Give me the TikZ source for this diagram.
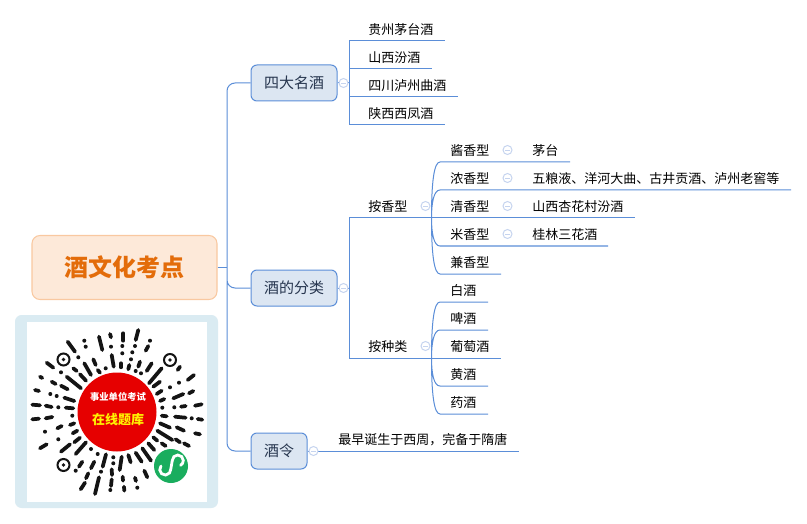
\documentclass[tikz,border=0pt]{standalone}
\usepackage{fontspec}
\setmainfont{Noto Sans CJK SC}
\definecolor{linkblue}{HTML}{5B8ED8}
\definecolor{boxfill}{HTML}{DCE6F2}
\definecolor{boxtext}{HTML}{27364F}
\definecolor{foldblue}{HTML}{C6D4EF}
\definecolor{rootfill}{HTML}{FDE9D9}
\definecolor{rootline}{HTML}{F9C8A0}
\definecolor{roottext}{HTML}{E36C0A}
\definecolor{frameblue}{HTML}{DAEBF2}
\definecolor{qrred}{HTML}{E60000}
\definecolor{qrgreen}{HTML}{1AAD5E}
\definecolor{qryellow}{HTML}{FFF200}
\definecolor{qrink}{HTML}{141414}

\begin{document}
\begin{tikzpicture}[x=0.75pt,y=0.75pt]
\tikzstyle{every node}+=[inner sep=0pt]
\tikzstyle{link}=[draw=linkblue,line width=0.75pt]
\tikzstyle{leaf}=[anchor=west,text=black,yshift=-0.5pt,font=\fontsize{9.75pt}{12pt}\selectfont]
\tikzstyle{branch}=[draw=linkblue,fill=boxfill,line width=0.75pt,rounded corners=4.5pt,minimum height=27pt,text=boxtext,font=\fontsize{11.25pt}{14pt}\selectfont]
\tikzstyle{fold}=[circle,draw=foldblue,fill=white,line width=0.75pt,minimum size=6.75pt,path picture={\draw[foldblue,line width=0.6pt] ([xshift=-1.8pt]path picture bounding box.center) -- ([xshift=1.8pt]path picture bounding box.center);}]
\tikzstyle{qrstroke}=[draw=qrink,line width=2.8pt,line cap=round]
\tikzstyle{qrdot}=[fill=qrink]
\tikzstyle{qrring}=[draw=qrink,line width=1.5pt]
\useasboundingbox (0,0) rectangle (807,-524);
\fill [white] (0,0) rectangle (807,-524);
% main boxes
\node [draw=rootline,fill=rootfill,line width=0.8pt,rounded corners=6pt,minimum width=138.75pt,minimum height=48pt,text=roottext,font=\fontsize{18pt}{22pt}\selectfont\bfseries] (root) at (124.5,-267.5) {酒文化考点};
\node [branch,minimum width=64.5pt] (famous) at (294,-83) {四大名酒};
\node [branch,minimum width=64.5pt] (kinds) at (294,-288) {酒的分类};
\node [branch,minimum width=42pt] (ling) at (279,-451) {酒令};
\coordinate (trunk) at (227,-267.5);
\draw [link] (root.east) -- (trunk);
\draw [link,rounded corners=6pt] (famous.west) -| (trunk) |- (ling.west) (trunk) |- (kinds.west);
% four famous
\coordinate (famousspine) at (349,-83);
\node [leaf] (guizhou) at (368,-29) {贵州茅台酒};
\node [leaf] (shanxi) at (368,-57) {山西汾酒};
\node [leaf] (luzhou) at (368,-85) {四川泸州曲酒};
\node [leaf] (xifeng) at (368,-113) {陕西西凤酒};
\coordinate (guizhouend) at (445,-41);
\coordinate (shanxiend) at (432,-69);
\coordinate (luzhouend) at (458,-97);
\coordinate (xifengend) at (445,-125);
\draw [link] (famous.east) -- (famousspine) (famousspine) |- (guizhouend) (famousspine) |- (shanxiend) (famousspine) |- (luzhouend) (famousspine) |- (xifengend);
\node [fold] (foldfamous) at (343.5,-83) {};
% classes
\coordinate (kindsspine) at (349,-288);
\node [leaf] (aroma) at (368,-206) {按香型};
\node [leaf] (sort) at (368,-346) {按种类};
% by aroma
\node [leaf] (jiang) at (450,-150) {酱香型};
\node [leaf] (nong) at (450,-178) {浓香型};
\node [leaf] (qing) at (450,-206) {清香型};
\node [leaf] (mi) at (450,-234) {米香型};
\node [leaf] (jian) at (450,-262) {兼香型};
\node [fold] (foldjiang) at (507.5,-150) {};
\node [fold] (foldnong) at (507.5,-178) {};
\node [fold] (foldqing) at (507.5,-206) {};
\node [fold] (foldmi) at (507.5,-234) {};
\node [leaf] (maotai) at (532,-150) {茅台};
\node [leaf] (wuliang) at (532,-178) {五粮液、洋河大曲、古井贡酒、泸州老窖等};
\node [leaf] (xinghua) at (532,-206) {山西杏花村汾酒};
\node [leaf] (sanhua) at (532,-234) {桂林三花酒};
\coordinate (aromajoin) at (431.5,-218);
\coordinate (jiangstart) at (440,-162);
\coordinate (nongstart) at (440,-190);
\coordinate (mistart) at (440,-246);
\coordinate (jianstart) at (440,-274);
\coordinate (jiangend) at (570,-162);
\coordinate (nongend) at (791,-190);
\coordinate (qingend) at (635,-218);
\coordinate (miend) at (608,-246);
\coordinate (jianend) at (501,-274);
\draw [link] (aromajoin) .. controls +(0,36) and +(-6,0) .. (jiangstart) -- (jiangend)
  (aromajoin) .. controls +(0,16) and +(-6,0) .. (nongstart) -- (nongend)
  (aromajoin) .. controls +(0,-16) and +(-6,0) .. (mistart) -- (miend)
  (aromajoin) .. controls +(0,-36) and +(-6,0) .. (jianstart) -- (jianend);
% by sort
\node [leaf] (baijiu) at (450,-290) {白酒};
\node [leaf] (pijiu) at (450,-318) {啤酒};
\node [leaf] (putao) at (450,-346) {葡萄酒};
\node [leaf] (huang) at (450,-374) {黄酒};
\node [leaf] (yao) at (450,-402) {药酒};
\coordinate (sortjoin) at (431.5,-358);
\coordinate (baistart) at (440,-302);
\coordinate (pistart) at (440,-330);
\coordinate (huangstart) at (440,-386);
\coordinate (yaostart) at (440,-414);
\coordinate (baiend) at (488,-302);
\coordinate (piend) at (488,-330);
\coordinate (putaoend) at (501,-358);
\coordinate (huangend) at (488,-386);
\coordinate (yaoend) at (488,-414);
\draw [link] (sortjoin) .. controls +(0,36) and +(-6,0) .. (baistart) -- (baiend)
  (sortjoin) .. controls +(0,16) and +(-6,0) .. (pistart) -- (piend)
  (sortjoin) .. controls +(0,-16) and +(-6,0) .. (huangstart) -- (huangend)
  (sortjoin) .. controls +(0,-36) and +(-6,0) .. (yaostart) -- (yaoend);
\draw [link] (kinds.east) -- (kindsspine) (kindsspine) |- (qingend) (kindsspine) |- (putaoend);
\node [fold] (foldsort) at (425.5,-346) {};
\node [fold] (foldaroma) at (425.5,-206) {};
\node [fold] (foldkinds) at (343.5,-288) {};
% wine order
\node [leaf] (origin) at (338,-439) {最早诞生于西周\symbol{"FF0C}完备于隋唐};
\coordinate (originend) at (519,-451);
\draw [link] (ling.east) -- (originend);
\node [fold] (foldling) at (313.5,-451) {};
% code card
\fill [frameblue,rounded corners=5pt] (15,-315) rectangle (218,-508);
\fill [white] (27,-322) rectangle (207,-502);
\draw [qrring] (63.5,-359.5) circle (6);
\fill [qrdot] (63.5,-359.5) circle (1.8);
\draw [qrring] (170,-360) circle (6);
\fill [qrdot] (170,-360) circle (1.8);
\draw [qrring] (63.5,-465) circle (6);
\fill [qrdot] (63.5,-465) circle (1.8);
% upper left strokes
\draw [qrstroke] (67.7,-341.7) -- (75,-351.7);
\draw [qrstroke] (99,-336.7) -- (102.3,-350);
\draw [qrstroke] (110,-334) -- (111,-337.3);
\draw [qrstroke] (111.7,-355) -- (113.7,-366.7);
\draw [qrstroke] (46.7,-362.7) -- (53.3,-367.7);
\draw [qrstroke] (84.3,-363.3) -- (91,-375);
\draw [qrstroke] (93.3,-359.3) -- (95.7,-365);
\draw [qrstroke] (73.3,-368.3) -- (76.7,-371);
\draw [qrstroke] (80,-374.3) -- (86,-380.7);
\draw [qrstroke] (66.7,-376.7) -- (81,-388.3);
\draw [qrstroke] (97.7,-370) -- (100,-372.7);
\draw [qrstroke] (40,-376.7) -- (42.3,-378);
\draw [qrstroke] (51.7,-381.7) -- (55.7,-384);
\draw [qrstroke] (61,-385.7) -- (67.7,-389.3);
\draw [qrstroke] (35,-390) -- (39,-391);
\draw [qrstroke] (64.3,-397.7) -- (74.3,-401);
\draw [qrstroke] (32.3,-404.7) -- (40,-405.3);
\draw [qrstroke] (45.7,-405.7) -- (51.7,-407);
\draw [qrstroke] (65.7,-407.7) -- (73.3,-408.3);
\fill [qrdot] (84.3,-340.7) circle (2);
\fill [qrdot] (85.7,-346.7) circle (2);
\fill [qrdot] (111,-346.7) circle (2);
\fill [qrdot] (78.3,-357.3) circle (2);
\fill [qrdot] (105.7,-368.3) circle (2);
\fill [qrdot] (61,-372.3) circle (2);
\fill [qrdot] (50.3,-394) circle (2);
\fill [qrdot] (56.7,-396) circle (2);
\fill [qrdot] (58.3,-407.3) circle (2);
% upper right strokes
\draw [qrstroke] (123.3,-333.3) -- (123.3,-340.7);
\draw [qrstroke] (138.3,-330) -- (135.7,-340);
\draw [qrstroke] (148.3,-346) -- (145.7,-350.7);
\draw [qrstroke] (121,-363.3) -- (121,-367.3);
\draw [qrstroke] (129.3,-365) -- (128.3,-369.3);
\draw [qrstroke] (140,-361.7) -- (138.3,-366.7);
\draw [qrstroke] (151.7,-363.3) -- (146.7,-371);
\draw [qrstroke] (161.7,-368.3) -- (149,-383.3);
\draw [qrstroke] (180,-366.7) -- (177.7,-370);
\draw [qrstroke] (194,-375) -- (187.7,-380);
\draw [qrstroke] (160,-381.7) -- (153.3,-386.7);
\draw [qrstroke] (161.7,-390.7) -- (156.7,-394);
\draw [qrstroke] (193.3,-391) -- (189,-393.3);
\draw [qrstroke] (183.3,-394) -- (173.3,-398.3);
\draw [qrstroke] (164.3,-399) -- (160,-401);
\draw [qrstroke] (201.7,-404.3) -- (195,-405.7);
\draw [qrstroke] (185.7,-406) -- (181,-406.7);
\fill [qrdot] (150,-340.7) circle (2);
\fill [qrdot] (135,-346) circle (2);
\fill [qrdot] (122.3,-346) circle (2);
\fill [qrdot] (122.3,-353.3) circle (2);
\fill [qrdot] (132.3,-352.3) circle (2);
\fill [qrdot] (131,-359.3) circle (2);
\fill [qrdot] (135.7,-371) circle (2);
\fill [qrdot] (141,-373.3) circle (2);
\fill [qrdot] (179,-382.7) circle (2);
\fill [qrdot] (170,-387.3) circle (2);
\fill [qrdot] (174.3,-407.3) circle (2);
\fill [qrdot] (162.3,-407.7) circle (2);
% lower left strokes
\draw [qrstroke] (32.3,-419.3) -- (39,-418.7);
\draw [qrstroke] (45.7,-418.3) -- (52.3,-417);
\draw [qrstroke] (70,-425) -- (74.3,-423.3);
\draw [qrstroke] (57.3,-428.3) -- (61.7,-426);
\draw [qrstroke] (72.7,-433.3) -- (77.3,-430.7);
\draw [qrstroke] (74.3,-442.3) -- (80,-437.7);
\draw [qrstroke] (40,-448.3) -- (46.7,-444.3);
\draw [qrstroke] (61,-451.7) -- (70,-444.3);
\draw [qrstroke] (75.7,-454) -- (86,-442.3);
\draw [qrstroke] (79,-466.7) -- (82.3,-461.7);
\draw [qrstroke] (91,-468.3) -- (94.3,-461.7);
\draw [qrstroke] (102.7,-466.7) -- (106,-454.3);
\draw [qrstroke] (111.7,-469.3) -- (112,-475);
\draw [qrstroke] (88.3,-473.3) -- (86,-478.3);
\draw [qrstroke] (80.7,-489.3) -- (85,-482.7);
\draw [qrstroke] (95,-494) -- (99,-477.3);
\draw [qrstroke] (111.7,-479.3) -- (111,-486);
\fill [qrdot] (72.3,-415.7) circle (2);
\fill [qrdot] (45,-431.7) circle (2);
\fill [qrdot] (58.3,-439.3) circle (2);
\fill [qrdot] (91,-449) circle (2);
\fill [qrdot] (97.7,-454) circle (2);
\fill [qrdot] (75.7,-470.7) circle (2);
\fill [qrdot] (113.3,-457.3) circle (2);
\fill [qrdot] (113.3,-463.3) circle (2);
\fill [qrdot] (101,-471.7) circle (2);
\fill [qrdot] (110.3,-490) circle (2);
% lower right strokes
\draw [qrstroke] (161.7,-415.7) -- (166.7,-416.3);
\draw [qrstroke] (175,-416.7) -- (185.7,-417.7);
\draw [qrstroke] (197.7,-419) -- (202.3,-419.7);
\draw [qrstroke] (160,-423.3) -- (170,-427.7);
\draw [qrstroke] (176.7,-427.3) -- (184,-430.7);
\draw [qrstroke] (195,-433.3) -- (200,-434.3);
\draw [qrstroke] (157.3,-430.7) -- (172.3,-440);
\draw [qrstroke] (175.7,-439.3) -- (180,-442.3);
\draw [qrstroke] (184,-443.3) -- (189,-446);
\draw [qrstroke] (153.3,-437.3) -- (157.3,-440.7);
\draw [qrstroke] (161.7,-443.3) -- (165.7,-446);
\draw [qrstroke] (148.3,-443.3) -- (154.3,-450);
\draw [qrstroke] (142.3,-448.3) -- (151,-460.7);
\draw [qrstroke] (135.7,-452.7) -- (141.7,-461.7);
\draw [qrstroke] (128.3,-455) -- (130.7,-462.3);
\draw [qrstroke] (121.7,-456.7) -- (119.7,-470);
\draw [qrstroke] (144.3,-470.7) -- (147.3,-477.3);
\draw [qrstroke] (135,-477.7) -- (136,-481);
\draw [qrstroke] (122.7,-476.7) -- (123,-480.7);
\draw [qrstroke] (124,-486.7) -- (124.3,-490.7);
\fill [qrdot] (191.7,-418.3) circle (2);
\fill [qrdot] (137.3,-487.7) circle (2);
% centre seal
\fill [qrred] (117,-412) circle (39.5);
\node [text=white,font=\fontsize{7pt}{8pt}\selectfont\bfseries] (sealtop) at (118,-397) {事业单位考试};
\node [text=qryellow,font=\fontsize{9.75pt}{11pt}\selectfont\bfseries] (sealbottom) at (118,-419.5) {在线题库};
% green badge
\fill [qrgreen] (171,-466) circle (17);
\draw [white,line width=2.1pt,line cap=round] (161,-466) arc (140:360:5.5) -- (172.3,-460.5) arc (180:-60:5.5);
\end{tikzpicture}
\end{document}
